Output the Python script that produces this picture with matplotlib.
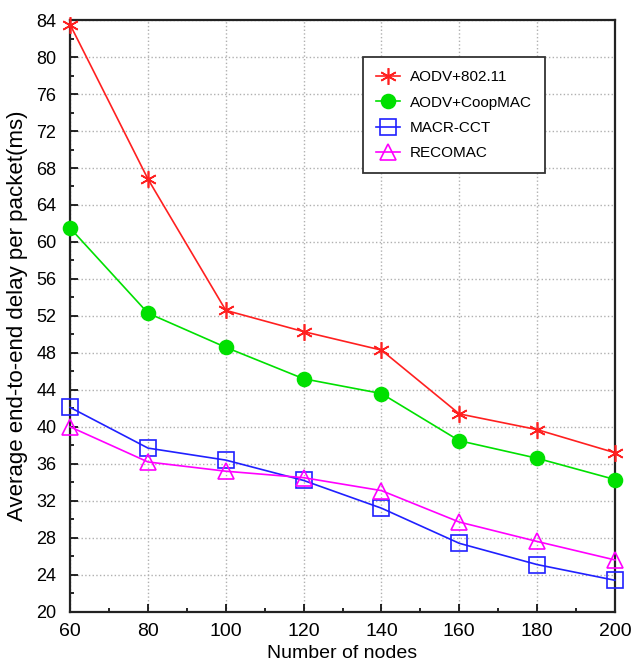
import matplotlib
matplotlib.use("Agg")
import matplotlib.pyplot as plt
from matplotlib.ticker import MultipleLocator

plt.rcParams["font.family"] = ["Liberation Sans", "DejaVu Sans"]

nodes = [60, 80, 100, 120, 140, 160, 180, 200]
aodv_80211 = [83.5, 66.8, 52.6, 50.3, 48.3, 41.4, 39.7, 37.2]
aodv_coop = [61.5, 52.3, 48.6, 45.2, 43.6, 38.5, 36.6, 34.3]
macr_cct = [42.1, 37.7, 36.4, 34.2, 31.2, 27.4, 25.1, 23.4]
recomac = [40.0, 36.2, 35.2, 34.5, 33.1, 29.7, 27.6, 25.6]

series = [
    ("AODV+802.11", aodv_80211, "#ff2020", (6, 2, 0), 12, True),
    ("AODV+CoopMAC", aodv_coop, "#00e000", "o", 10, True),
    ("MACR-CCT", macr_cct, "#2020ff", "s", 11, False),
    ("RECOMAC", recomac, "#ff00ff", "^", 11, False),
]

fig = plt.figure(figsize=(6.32, 6.70), dpi=100)
ax = fig.add_axes([0.111, 0.087, 0.862, 0.883])

for label, ys, color, marker, ms, filled in series:
    ax.plot(nodes, ys, color=color, lw=1.2, marker=marker, markersize=ms,
            markerfacecolor=color if filled else "none",
            markeredgecolor=color, markeredgewidth=1.2, label=label,
            clip_on=False, zorder=3)

ax.set_xlim(60, 200)
ax.set_ylim(20, 84)
ax.xaxis.set_major_locator(MultipleLocator(20))
ax.xaxis.set_minor_locator(MultipleLocator(10))
ax.yaxis.set_major_locator(MultipleLocator(4))
ax.yaxis.set_minor_locator(MultipleLocator(2))
ax.tick_params(which="both", direction="in", width=1.2)
ax.tick_params(which="major", length=6)
ax.tick_params(which="minor", length=3)
ax.tick_params(axis="x", labelsize=14, pad=8)
ax.tick_params(axis="y", labelsize=13, pad=10)
ax.grid(True, which="major", linestyle=":", color="#b0b0b0", lw=1)
for s in ax.spines.values():
    s.set_linewidth(1.6)
    s.set_color("#222222")

ax.set_xlabel("Number of nodes", fontsize=14, labelpad=4)
ax.set_ylabel("Average end-to-end delay per packet(ms)", fontsize=16, labelpad=6)

leg = ax.legend(loc="upper left", bbox_to_anchor=(0.5376, 0.9375), fontsize=11,
                fancybox=False, edgecolor="#333333", framealpha=1,
                borderaxespad=0, borderpad=0.85, labelspacing=0.75,
                handlelength=1.6, handletextpad=0.6)
leg.get_frame().set_linewidth(1.3)

fig.savefig("out.png", dpi=100)
